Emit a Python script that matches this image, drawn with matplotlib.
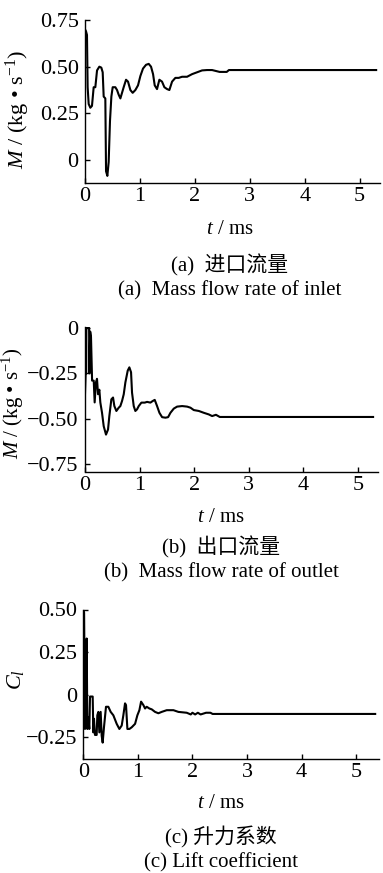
import matplotlib
matplotlib.use("Agg")
import matplotlib.pyplot as plt

plt.rcParams["font.family"] = ["Liberation Serif", "Noto Sans CJK SC"]
plt.rcParams["mathtext.fontset"] = "custom"
plt.rcParams["mathtext.rm"] = "Liberation Serif"
plt.rcParams["mathtext.it"] = "Liberation Serif:italic"
plt.rcParams["axes.unicode_minus"] = True

# ---- data (t in ms) ----
t_inlet = [0.0, 0.018, 0.036, 0.048, 0.067, 0.097, 0.127, 0.158, 0.188, 0.219,
           0.261, 0.297, 0.322, 0.340, 0.370, 0.383, 0.407, 0.431, 0.455, 0.480,
           0.504, 0.552, 0.583, 0.613, 0.644, 0.674, 0.704, 0.747, 0.783, 0.826,
           0.868, 0.917, 0.965, 1.008, 1.056, 1.111, 1.160, 1.202, 1.239, 1.269,
           1.311, 1.354, 1.402, 1.445, 1.494, 1.536, 1.585, 1.645, 1.706, 1.767,
           1.858, 1.949, 2.040, 2.131, 2.222, 2.313, 2.450, 2.580, 2.620, 5.30]
m_inlet = [0.70, 0.69, 0.67, 0.39, 0.30, 0.28, 0.29, 0.39, 0.39, 0.48,
           0.50, 0.495, 0.47, 0.34, 0.33, -0.06, -0.085, -0.01, 0.21, 0.34,
           0.39, 0.39, 0.375, 0.35, 0.33, 0.36, 0.39, 0.43, 0.42, 0.375,
           0.36, 0.375, 0.40, 0.45, 0.49, 0.51, 0.515, 0.50, 0.46, 0.40,
           0.38, 0.43, 0.42, 0.39, 0.38, 0.375, 0.42, 0.44, 0.44, 0.446,
           0.446, 0.46, 0.47, 0.48, 0.482, 0.482, 0.472, 0.472, 0.482, 0.482]

t_outlet = [0.0, 0.012, 0.022, 0.025, 0.075, 0.08, 0.095, 0.11, 0.13, 0.16,
            0.177, 0.2, 0.22, 0.239, 0.263, 0.281, 0.312, 0.343, 0.385, 0.422,
            0.446, 0.483, 0.514, 0.538, 0.575, 0.618, 0.648, 0.679, 0.71, 0.74,
            0.783, 0.813, 0.844, 0.862, 0.893, 0.923, 0.954, 0.985, 1.034, 1.095,
            1.138, 1.199, 1.242, 1.278, 1.321, 1.364, 1.413, 1.474, 1.523, 1.566,
            1.627, 1.688, 1.78, 1.872, 1.933, 1.994, 2.086, 2.177, 2.269, 2.33,
            2.4, 2.47, 5.28]
m_outlet = [-0.36, -0.25, -0.25, 0.0, 0.0, -0.25, -0.02, -0.05, -0.29, -0.29,
            -0.41, -0.30, -0.28, -0.365, -0.34, -0.41, -0.467, -0.541, -0.587, -0.559,
            -0.485, -0.393, -0.383, -0.43, -0.457, -0.439, -0.43, -0.402, -0.365, -0.30,
            -0.235, -0.217, -0.244, -0.356, -0.43, -0.457, -0.448, -0.43, -0.411, -0.411,
            -0.407, -0.411, -0.402, -0.396, -0.43, -0.467, -0.491, -0.494, -0.491, -0.467,
            -0.444, -0.433, -0.43, -0.433, -0.439, -0.452, -0.457, -0.467, -0.476, -0.485,
            -0.478, -0.49, -0.49]

t_lift = [0.005, 0.015, 0.03, 0.055, 0.062, 0.074, 0.092, 0.11, 0.123, 0.172,
          0.184, 0.196, 0.214, 0.245, 0.257, 0.276, 0.294, 0.318, 0.337, 0.355,
          0.379, 0.416, 0.459, 0.502, 0.551, 0.612, 0.661, 0.704, 0.734, 0.765,
          0.783, 0.808, 0.845, 0.888, 0.949, 0.991, 1.028, 1.059, 1.101, 1.132,
          1.162, 1.211, 1.254, 1.315, 1.376, 1.437, 1.529, 1.652, 1.743, 1.896,
          1.97, 2.0, 2.05, 2.1, 2.15, 2.25, 2.33, 2.37, 5.35]
cl_lift = [0.50, 0.48, -0.20, -0.19, 0.33, -0.20, -0.13, -0.20, -0.01, -0.01,
           -0.22, -0.14, -0.235, -0.235, -0.12, -0.10, -0.22, -0.10, -0.24, -0.28,
           -0.19, -0.07, -0.07, -0.10, -0.12, -0.17, -0.20, -0.18, -0.12, -0.05,
           -0.06, -0.20, -0.20, -0.19, -0.17, -0.12, -0.09, -0.04, -0.06, -0.08,
           -0.07, -0.08, -0.085, -0.10, -0.108, -0.10, -0.09, -0.09, -0.10, -0.105,
           -0.115, -0.105, -0.115, -0.105, -0.115, -0.105, -0.105, -0.112, -0.112]

x_ticks = [0, 1, 2, 3, 4, 5]
y_ticks_inlet = [0, 0.25, 0.50, 0.75]
y_labels_inlet = ["0", "0.25", "0.50", "0.75"]
y_ticks_outlet = [-0.75, -0.50, -0.25, 0]
y_labels_outlet = ["\u22120.75", "\u22120.50", "\u22120.25", "0"]
y_ticks_lift = [-0.25, 0, 0.25, 0.50]
y_labels_lift = ["\u22120.25", "0", "0.25", "0.50"]

W, H = 383, 873
fig = plt.figure(figsize=(W / 100, H / 100), dpi=100)


def px_axes(left, top, right, bottom):
    return fig.add_axes([left / W, 1 - bottom / H, (right - left) / W, (bottom - top) / H])


def style(ax, xlim, ylim, yt, ytl):
    ax.set_xlim(*xlim)
    ax.set_ylim(*ylim)
    ax.set_xticks(x_ticks)
    ax.set_xticklabels([str(v) for v in x_ticks])
    ax.set_yticks(yt)
    ax.set_yticklabels(ytl)
    for s in ("top", "right"):
        ax.spines[s].set_visible(False)
    for s in ("left", "bottom"):
        ax.spines[s].set_linewidth(1.0)
    ax.tick_params(direction="in", length=3.8, width=1.0, labelsize=16)
    ax.tick_params(axis="x", pad=3)
    ax.tick_params(axis="y", pad=4.5)


ylab = r"$M$ / (kg • s$^{-1}$)"
fs = 15

# (a) inlet
ax1 = px_axes(85, 20, 380, 183)
ax1.plot(t_inlet, m_inlet, color="black", lw=1.5)
style(ax1, (0, 5.37), (-0.123, 0.75), y_ticks_inlet, y_labels_inlet)
ax1.set_ylabel(ylab, fontsize=16)
ax1.yaxis.set_label_coords(-0.18, 0.45)
fig.text(230 / W, 1 - 230 / H, r"$t$ / ms", ha="center", va="center", fontsize=fs)
fig.text(230 / W, 1 - 265 / H, "(a)  进口流量", ha="center", va="center", fontsize=fs)
fig.text(230 / W, 1 - 291 / H, "(a)  Mass flow rate of inlet", ha="center", va="center", fontsize=fs)

# (b) outlet
ax2 = px_axes(85, 327, 378, 471.5)
ax2.plot(t_outlet, m_outlet, color="black", lw=1.5)
style(ax2, (0, 5.37), (-0.79, 0.005), y_ticks_outlet, y_labels_outlet)
ax2.set_ylabel(ylab, fontsize=15)
ax2.yaxis.set_label_coords(-0.2, 0.47)
fig.text(221 / W, 1 - 517 / H, r"$t$ / ms", ha="center", va="center", fontsize=fs)
fig.text(221 / W, 1 - 547 / H, "(b)  出口流量", ha="center", va="center", fontsize=fs)
fig.text(221 / W, 1 - 573 / H, "(b)  Mass flow rate of outlet", ha="center", va="center", fontsize=fs)

# (c) lift
ax3 = px_axes(83.3, 609.5, 379, 759)
ax3.plot(t_lift, cl_lift, color="black", lw=1.5)
style(ax3, (0, 5.42), (-0.376, 0.5), y_ticks_lift, y_labels_lift)
ax3.set_ylabel(r"$C_l$", fontsize=16)
ax3.yaxis.set_label_coords(-0.195, 0.53)
fig.text(221 / W, 1 - 803 / H, r"$t$ / ms", ha="center", va="center", fontsize=fs)
fig.text(221 / W, 1 - 837 / H, "(c) 升力系数", ha="center", va="center", fontsize=fs)
fig.text(221 / W, 1 - 863 / H, "(c) Lift coefficient", ha="center", va="center", fontsize=fs)

fig.savefig("out.png", dpi=100)
